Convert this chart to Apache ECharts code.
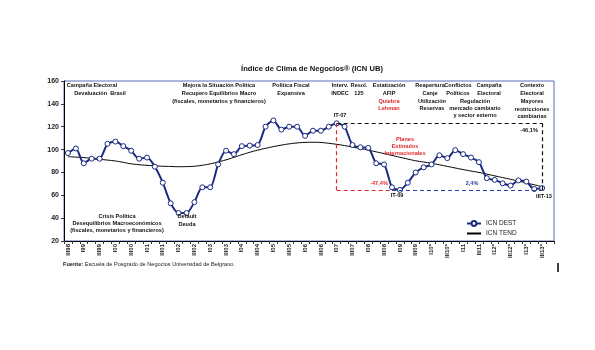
<!DOCTYPE html>
<html>
<head>
<meta charset="utf-8">
<script src="https://cdn.jsdelivr.net/npm/echarts@6/dist/echarts.min.js"></script>
<style>
  html, body { margin: 0; padding: 0; background: #fff; }
  #chart { width: 595px; height: 350px; }
</style>
</head>
<body>
<div id="chart"></div>
<script>
// quarterly categories, III-1998 .. III-2013 (last slot is an empty spacer like the original axis)
const quarters = [
  'III98', 'IV98',
  'I99', 'II99', 'III99', 'IV99',
  'I00', 'II00', 'III00', 'IV00',
  'I01', 'II01', 'III01', 'IV01',
  'I02', 'II02', 'III02', 'IV02',
  'I03', 'II03', 'III03', 'IV03',
  'I04', 'II04', 'III04', 'IV04',
  'I05', 'II05', 'III05', 'IV05',
  'I06', 'II06', 'III06', 'IV06',
  'I07', 'II07', 'III07', 'IV07',
  'I08', 'II08', 'III08', 'IV08',
  'I09', 'II09', 'III09', 'IV09',
  'I10*', 'II10*', 'III10*', 'IV10*',
  'I11', 'II11', 'III11', 'IV11',
  'I12*', 'II12*', 'III12*', 'IV12*',
  'I13*', 'II13*', 'III13*', ''
];

const icnDest = [
  97, 101, 88, 92, 92, 105, 107, 103, 99, 92,
  93, 85, 71, 53, 44.5, 44.5, 54, 67, 67, 87,
  99, 96, 103, 103.5, 104, 120, 125.5, 117.5, 120, 120,
  112, 116.5, 116.5, 120, 123, 120, 104, 102, 101.5, 88,
  87, 67, 64.7, 71, 80, 84.5, 87, 95, 92.5, 99.5,
  96, 93, 89, 75, 73.5, 70.5, 68.5, 73, 72, 65.5,
  66.3
];

const icnTend = [
  93.8, 93.4, 93.0, 92.3, 91.5, 90.8, 90.0, 88.8, 87.5, 86.8,
  86.2, 85.8, 85.4, 85.2, 85.0, 85.1, 85.4, 86.3, 87.5, 89.2,
  91.0, 93.2, 95.5, 97.6, 99.5, 101.1, 102.6, 103.9, 105.0, 105.8,
  106.3, 106.4, 106.2, 105.5, 104.6, 103.5, 102.2, 100.9, 99.5, 98.0,
  96.5, 94.9, 93.3, 91.7, 90.2, 89.1, 88.0, 86.7, 85.3, 83.9,
  82.5, 81.2, 80.0, 78.5, 77.0, 75.5, 74.0, 72.4, 70.8, 69.2,
  67.5
];

const yMin = 20, yMax = 160, yStep = 20;

// quarters referenced by the annotations (IT-07 peak, IT-09 trough, IIIT-13 last)
const peakQ = 'I07', troughQ = 'I09', lastQ = 'III13*';

const FONT = '"Liberation Sans", Arial, sans-serif';
const RED = '#E0262E';
const BLUE = '#2F3DA8';
const NAVY = '#1B2A80';

const peakIdx = quarters.indexOf(peakQ);
const troughIdx = quarters.indexOf(troughQ);
const lastIdx = quarters.indexOf(lastQ);
const peakVal = icnDest[peakIdx];
const troughVal = icnDest[troughIdx];

function dashed(color) {
  return { color, type: [4, 3], width: 1.2 };
}

// annotation text: [text, x, top, color, lineHeight]
const notes = [
  ['Campaña Electoral', 92, 81, '#111', 8],
  ['Devaluación  Brasil', 100, 89, '#111', 8],
  ['Mejora la Situación Política\nRecupero Equilibrios Macro\n(fiscales, monetarios y financieros)', 219, 81, '#111', 8],
  ['Política Fiscal\nExpansiva', 291, 81, '#111', 8],
  ['Interv.\nINDEC', 340, 81, '#111', 8],
  ['Resol.\n125', 359, 81, '#111', 8],
  ['Estatización\nAFIP', 389, 81, '#111', 8],
  ['Quiebra\nLehman', 389, 98, RED, 7],
  ['Reapertura\nCanje', 430, 81, '#111', 8],
  ['Utilización\nReservas', 432, 98, '#111', 7],
  ['Conflictos\nPolíticos', 458, 81, '#111', 8],
  ['Campaña\nElectoral', 489, 81, '#111', 8],
  ['Regulación\nmercado cambiario\ny sector externo', 475, 97.5, '#111', 7],
  ['Contexto\nElectoral', 532, 81, '#111', 8],
  ['Mayores\nrestricciones\ncambiarias', 532, 98, '#111', 7.5],
  ['IT-07', 340, 111.5, '#111', 7],
  ['-46,1%', 529, 126.5, '#111', 7],
  ['Planes\nEstímulos\nInternacionales', 405, 135.5, RED, 7],
  ['-47,4%', 379, 179.5, RED, 7],
  ['IT-09', 397, 192, '#111', 7],
  ['2,4%', 472, 179.5, BLUE, 7],
  ['IIIT-13', 544, 192.5, '#111', 7],
  ['Crisis Política\nDesequilibrios Macroeconómicos\n(fiscales, monetarios y financieros)', 117, 213, '#111', 7],
  ['Default\nDeuda', 187, 213, '#111', 7.5]
];

const graphics = notes.map(([text, x, y, color, lh]) => ({
  type: 'text',
  x, y,
  z: 10,
  style: {
    text, fill: color,
    font: '600 5.6px ' + FONT,
    lineHeight: lh,
    align: 'center', verticalAlign: 'top',
    textAlign: 'center', textVerticalAlign: 'top'
  }
}));

graphics.push({
  type: 'text', x: 312, y: 69, z: 10,
  style: {
    text: 'Índice de Clima de Negocios® (ICN UB)',
    fill: '#111', font: 'bold 7.6px ' + FONT,
    align: 'center', verticalAlign: 'middle',
    textAlign: 'center', textVerticalAlign: 'middle'
  }
});
graphics.push({
  type: 'text', x: 63, y: 264, z: 10,
  style: {
    text: '{b|Fuente:} Escuela de Posgrado de Negocios Universidad de Belgrano.',
    fill: '#222', font: '5.6px ' + FONT,
    verticalAlign: 'middle', textVerticalAlign: 'middle',
    rich: { b: { fontWeight: 'bold', fontSize: 5.6, fontFamily: FONT, fill: '#222' } }
  }
});
graphics.push({
  type: 'line', z: 10,
  shape: { x1: 558, y1: 263, x2: 558, y2: 272 },
  style: { stroke: '#000', lineWidth: 1.5 }
});

const chart = echarts.init(document.getElementById('chart'));

chart.setOption({
  animation: false,
  backgroundColor: '#fff',
  textStyle: { fontFamily: FONT },
  grid: {
    left: 64, top: 81, width: 490, height: 160,
    show: true, borderColor: '#5A6EB8', borderWidth: 1
  },
  legend: {
    orient: 'vertical',
    left: 461, top: 215,
    itemGap: 3, itemWidth: 14, itemHeight: 6,
    textStyle: { fontSize: 6.5, color: '#222', fontFamily: FONT },
    data: ['ICN DEST', { name: 'ICN TEND', itemStyle: { opacity: 0 } }]
  },
  xAxis: {
    type: 'category',
    data: quarters,
    boundaryGap: true,
    axisLine: { lineStyle: { color: '#000', width: 1 } },
    axisTick: { show: true, interval: 0, length: 3, lineStyle: { color: '#333' } },
    axisLabel: {
      interval: 1, rotate: 90, margin: 3,
      fontSize: 6, fontWeight: 'bold', color: '#222', fontFamily: FONT
    },
    splitLine: { show: false }
  },
  yAxis: {
    type: 'value',
    min: yMin, max: yMax, interval: yStep,
    axisLine: { show: true, lineStyle: { color: '#000', width: 1 } },
    axisTick: { show: true, length: 3, lineStyle: { color: '#333' } },
    axisLabel: { fontSize: 7, fontWeight: 'bold', color: '#222', margin: 5, fontFamily: FONT },
    splitLine: { show: false }
  },
  series: [
    {
      name: 'ICN DEST',
      type: 'line',
      data: icnDest,
      smooth: 0.25,
      symbol: 'circle',
      symbolSize: 5,
      z: 4,
      lineStyle: { color: NAVY, width: 2 },
      itemStyle: { color: '#fff', borderColor: NAVY, borderWidth: 1 },
      markLine: {
        silent: true,
        symbol: ['none', 'none'],
        label: { show: false },
        data: [
          [{ coord: [peakQ, peakVal], lineStyle: dashed(RED) },
           { coord: [peakQ, troughVal] }],
          [{ coord: [peakQ, troughVal], lineStyle: dashed(RED) },
           { coord: [quarters[troughIdx - 1], troughVal] }],
          [{ coord: [quarters[troughIdx - 1], troughVal], lineStyle: dashed(BLUE) },
           { coord: [lastQ, troughVal] }],
          [{ coord: [peakQ, peakVal], lineStyle: dashed('#111') },
           { coord: [lastQ, peakVal] }],
          [{ coord: [lastQ, peakVal], lineStyle: dashed('#111') },
           { coord: [lastQ, troughVal] }]
        ]
      }
    },
    {
      name: 'ICN TEND',
      type: 'line',
      data: icnTend,
      smooth: true,
      symbol: 'none',
      z: 3,
      lineStyle: { color: '#000', width: 1 },
      itemStyle: { color: '#000' }
    }
  ],
  graphic: graphics
});
</script>
</body>
</html>
